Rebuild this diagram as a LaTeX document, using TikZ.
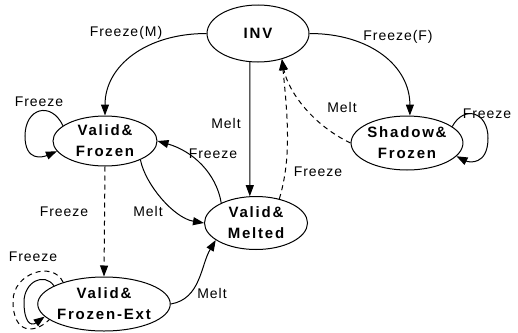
\documentclass[tikz,border=0pt]{standalone}
\usepackage{fontspec}
\setmainfont{Liberation Sans}
\newfontfamily\lblfont[LetterSpace=7]{Liberation Sans}
\newfontfamily\stfont[LetterSpace=12]{Liberation Sans Bold}
\usetikzlibrary{arrows.meta,shapes.geometric}
\begin{document}
\begin{tikzpicture}[x=1pt,y=-1pt,
  state/.style={ellipse,draw,line width=1pt,inner sep=0pt,align=center,
    font=\stfont\fontsize{15}{21}\selectfont},
  lbl/.style={font=\lblfont\fontsize{14}{16}\selectfont,inner sep=0pt},
  edge/.style={line width=1pt,-{Triangle[length=11pt,width=8pt]}},
  plain/.style={line width=1pt},
  dsh/.style={dash pattern=on 5pt off 4pt}]
\useasboundingbox (0,0) rectangle (518,332);

\node[state,minimum width=102pt,minimum height=57pt] (inv) at (258,33.5) {INV};
\node[state,minimum width=104pt,minimum height=50pt] (vf) at (105,141) {Valid\&\\Frozen};
\node[state,minimum width=98pt,minimum height=54pt] (sf) at (407,143) {Shadow\&\\Frozen};
\node[state,minimum width=103pt,minimum height=53pt] (vm) at (256,223) {Valid\&\\Melted};
\node[state,minimum width=102pt,minimum height=54pt] (vfe) at (104,304) {Valid\&\\Frozen-Ext};

% INV -> VF
\draw[edge] (inv.180) .. controls +(-60,0) and +(0,-50) .. (vf.90);
% INV -> SF
\draw[edge] (inv.0) .. controls +(60,0) and +(0,-50) .. (sf.84);
% INV -> VM
\draw[edge] (inv.254) -- (vm.103);
% SF -> INV dashed
\draw[edge,dsh] (sf.180) .. controls +(-38,-18) and +(6,32) .. (inv.313);
% VM -> INV dashed
\draw[edge,dsh] (vm.46) .. controls +(12,-40) and +(6,60) .. (inv.313);
% VF -> VM
\draw[edge] (vf.332) .. controls +(5,25) and +(-30,-5) .. (vm.180);
% VM -> VF
\draw[edge] (vm.150) .. controls +(-5,-30) and +(35,10) .. (vf.0);
% VF -> VFE dashed
\draw[edge,dsh] (vf.270) -- (vfe.90);
% VFE -> VM
\draw[edge] (vfe.0) .. controls +(30,-5) and +(-15,25) .. (vm.203);
% self loops
\draw[edge] (vf.160) .. controls +(-12,-25) and +(0,-28) .. (25,136)
  .. controls +(0,26) and +(-14,6) .. (vf.192);
\draw[edge] (sf.20) .. controls +(12,-22) and +(0,-26) .. (488,138)
  .. controls +(0,28) and +(12,6) .. (sf.345);
\draw[edge] (vfe.160) .. controls +(-10,-14) and +(0,-20) .. (24,302)
  .. controls +(0,20) and +(-14,10) .. (vfe.192);
\draw[plain,dsh] (vfe.152) .. controls +(-10,-22) and +(0,-28) .. (13,301)
  .. controls +(0,34) and +(-14,14) .. (vfe.196);

% labels
\node[lbl] (l1) at (126,33) {Freeze(M)};
\node[lbl] (l2) at (398,37) {Freeze(F)};
\node[lbl] (l3) at (226,123) {Melt};
\node[lbl] (l4) at (342,107) {Melt};
\node[lbl] (l5) at (318,172) {Freeze};
\node[lbl] (l6) at (213,154) {Freeze};
\node[lbl] (l7) at (148,211) {Melt};
\node[lbl] (l8) at (64,212) {Freeze};
\node[lbl] (l9) at (212,293) {Melt};
\node[lbl] (l10) at (39,102) {Freeze};
\node[lbl] (l11) at (487,114) {Freeze};
\node[lbl] (l12) at (33,257) {Freeze};
\end{tikzpicture}
\end{document}
